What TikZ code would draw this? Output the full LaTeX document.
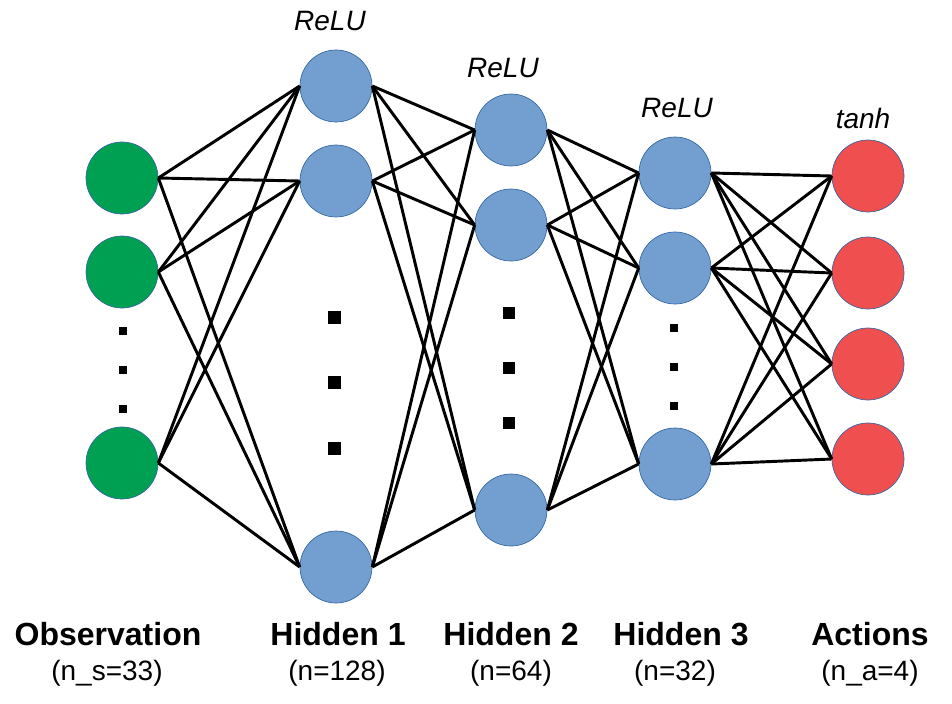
\documentclass[tikz,border=0pt]{standalone}
\usepackage{fontspec}
\setmainfont{Liberation Sans}
\definecolor{obsgreen}{RGB}{0,160,82}
\definecolor{hidblue}{RGB}{114,159,207}
\definecolor{actred}{RGB}{239,79,79}
\definecolor{rimblue}{RGB}{52,101,164}
\begin{document}
\begin{tikzpicture}[x=0.75pt,y=0.75pt,yscale=-1,xscale=1,
  neuron/.style={circle,draw=rimblue,line width=0.5pt,minimum size=54pt,inner sep=0pt},
  link/.style={line width=2.2pt,black},
  layername/.style={font=\fontsize{24}{28}\selectfont\bfseries,anchor=base},
  layersize/.style={font=\fontsize{21}{25}\selectfont,anchor=base},
  actfun/.style={font=\fontsize{21}{25}\selectfont\itshape,anchor=base}]
\useasboundingbox (0,0) rectangle (952,703);

% Observation layer
\node [neuron,fill=obsgreen] (o1) at (122,178) {};
\node [neuron,fill=obsgreen] (o2) at (122,272) {};
\node [neuron,fill=obsgreen] (o3) at (122,463) {};
% Hidden 1
\node [neuron,fill=hidblue] (ha1) at (336,86) {};
\node [neuron,fill=hidblue] (ha2) at (336,181) {};
\node [neuron,fill=hidblue] (ha3) at (336,567) {};
% Hidden 2
\node [neuron,fill=hidblue] (hb1) at (511,130) {};
\node [neuron,fill=hidblue] (hb2) at (511,225) {};
\node [neuron,fill=hidblue] (hb3) at (511,510) {};
% Hidden 3
\node [neuron,fill=hidblue] (hc1) at (675,173) {};
\node [neuron,fill=hidblue] (hc2) at (675,268) {};
\node [neuron,fill=hidblue] (hc3) at (675,464) {};
% Actions
\node [neuron,fill=actred] (a1) at (868,176) {};
\node [neuron,fill=actred] (a2) at (868,273) {};
\node [neuron,fill=actred] (a3) at (868,364) {};
\node [neuron,fill=actred] (a4) at (868,459) {};

% Links
\foreach \i in {o1,o2,o3} \foreach \j in {ha1,ha2,ha3} \draw [link] (\i.east) -- (\j.west);
\foreach \i in {ha1,ha2,ha3} \foreach \j in {hb1,hb2,hb3} \draw [link] (\i.east) -- (\j.west);
\foreach \i in {hb1,hb2,hb3} \foreach \j in {hc1,hc2,hc3} \draw [link] (\i.east) -- (\j.west);
\foreach \i in {hc1,hc2,hc3} \foreach \j in {a1,a2,a3,a4} \draw [link] (\i.east) -- (\j.west);

% Dots
\foreach \y in {331,370,409} \fill (123,\y) +(-4,-4) rectangle +(4,4);
\foreach \y in {317,382,448} \fill (334,\y) +(-6.5,-6.5) rectangle +(6.5,6.5);
\foreach \y in {313,368,423} \fill (509,\y) +(-6,-6) rectangle +(6,6);
\foreach \y in {328,367,406} \fill (674,\y) +(-4,-4) rectangle +(4,4);

% Activation Text
\node [actfun] (fa) at (330,31) {ReLU};
\node [actfun] (fb) at (503,77) {ReLU};
\node [actfun] (fc) at (677,117) {ReLU};
\node [actfun] (fd) at (863,128) {tanh};

% Layer Text
\node [layername] (lo) at (108,645) {Observation};
\node [layername] (la) at (338,645) {Hidden 1};
\node [layername] (lb) at (511,645) {Hidden 2};
\node [layername] (lc) at (681,645) {Hidden 3};
\node [layername] (ld) at (870,645) {Actions};
\node [layersize] (so) at (107,680) {(n\_s=33)};
\node [layersize] (sa) at (337,680) {(n=128)};
\node [layersize] (sb) at (511,680) {(n=64)};
\node [layersize] (sc) at (675,680) {(n=32)};
\node [layersize] (sd) at (870,680) {(n\_a=4)};

\end{tikzpicture}
\end{document}
